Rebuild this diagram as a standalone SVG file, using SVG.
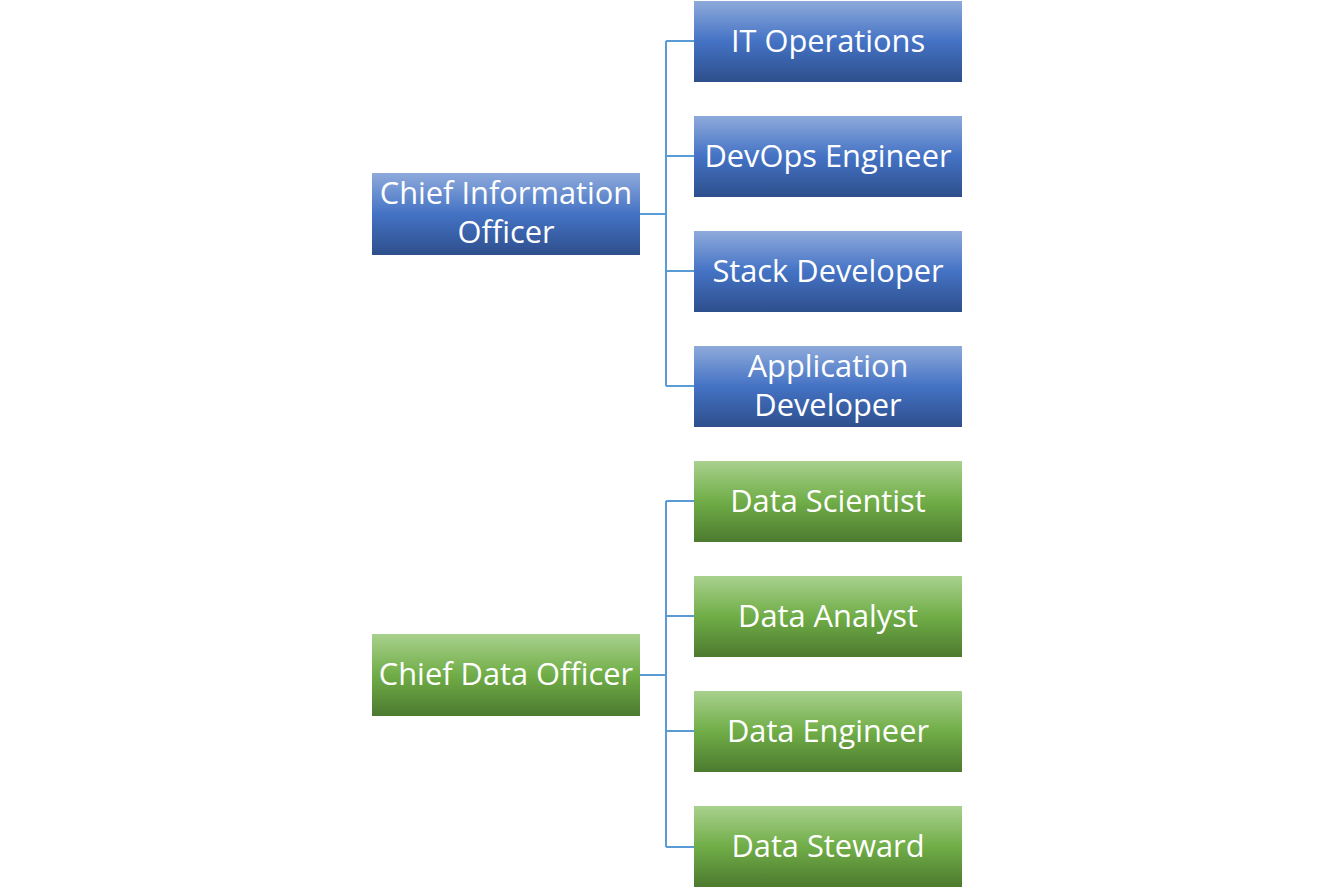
<svg xmlns="http://www.w3.org/2000/svg" width="1334" height="889" viewBox="0 0 1334 889">
<defs>
<linearGradient id="gb" x1="0" y1="0" x2="0" y2="1">
<stop offset="0" stop-color="#8eaadb"/>
<stop offset="0.5" stop-color="#4472c4"/>
<stop offset="1" stop-color="#2e4f8c"/>
</linearGradient>
<linearGradient id="gg" x1="0" y1="0" x2="0" y2="1">
<stop offset="0" stop-color="#a9d18e"/>
<stop offset="0.5" stop-color="#70ad47"/>
<stop offset="1" stop-color="#4c7a2f"/>
</linearGradient>
<style>
.b{fill:url(#gb)}
.g{fill:url(#gg)}
text{font-family:"Open Sans","Noto Sans",sans-serif;font-size:30.8px;fill:#ffffff;text-anchor:middle}
.c{fill:none;stroke:#5b9bd5;stroke-width:2}
</style>
</defs>
<rect width="1334" height="889" fill="#ffffff"/>
<g id="connectors">
<path class="c" d="M640 214H666M666 41V386M666 41H694M666 156H694M666 271H694M666 386H694"/>
<path class="c" d="M640 675H666M666 501V847M666 501H694M666 616H694M666 731H694M666 847H694"/>
</g>
<g id="cio"><rect class="b" x="372" y="173" width="268" height="82"/><text x="506" y="204">Chief Information</text><text x="506" y="243">Officer</text></g>
<g id="itops"><rect class="b" x="694" y="1" width="268" height="81"/><text x="828" y="52">IT Operations</text></g>
<g id="devops"><rect class="b" x="694" y="116" width="268" height="81"/><text x="828" y="167">DevOps Engineer</text></g>
<g id="stack"><rect class="b" x="694" y="231" width="268" height="81"/><text x="828" y="282">Stack Developer</text></g>
<g id="appdev"><rect class="b" x="694" y="346" width="268" height="81"/><text x="828" y="377">Application</text><text x="828" y="416">Developer</text></g>
<g id="cdo"><rect class="g" x="372" y="634" width="268" height="82"/><text x="506" y="685">Chief Data Officer</text></g>
<g id="scientist"><rect class="g" x="694" y="461" width="268" height="81"/><text x="828" y="512">Data Scientist</text></g>
<g id="analyst"><rect class="g" x="694" y="576" width="268" height="81"/><text x="828" y="627">Data Analyst</text></g>
<g id="engineer"><rect class="g" x="694" y="691" width="268" height="81"/><text x="828" y="742">Data Engineer</text></g>
<g id="steward"><rect class="g" x="694" y="806" width="268" height="81"/><text x="828" y="857">Data Steward</text></g>
</svg>
